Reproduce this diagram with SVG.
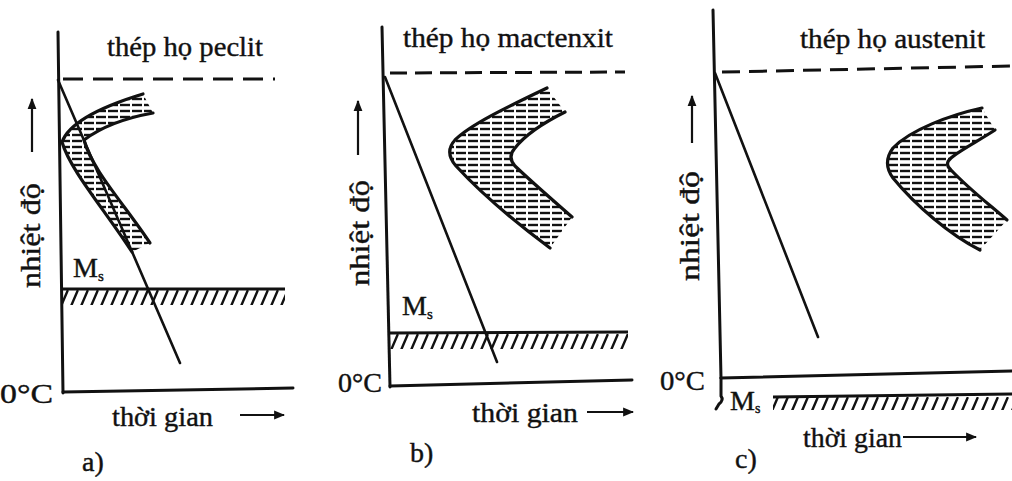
<svg xmlns="http://www.w3.org/2000/svg" width="1012" height="481" viewBox="0 0 1012 481">
<style>
text{font-family:'Liberation Serif','DejaVu Serif',serif;fill:#111;stroke:#111;stroke-width:0.4}
.t{font-size:28px}
.lab{font-size:28px}
.ax{stroke:#111;stroke-width:3;fill:none;stroke-linecap:round}
.cool{stroke:#111;stroke-width:2.6;fill:none;stroke-linecap:round}
.dash{stroke:#111;stroke-width:3;fill:none}
.edge{stroke:#111;stroke-width:3.2;fill:none;stroke-linecap:round;stroke-linejoin:round}
.band{fill:url(#hh);stroke:none}
.ms{stroke:#111;stroke-width:3;fill:none}
.arr{stroke:#111;stroke-width:2.2;fill:none}
</style>
<defs>
<pattern id="hh" width="12" height="6" patternUnits="userSpaceOnUse">
<line x1="0" y1="3" x2="10" y2="3" stroke="#111" stroke-width="2.4"/>
</pattern>
<pattern id="sl" width="10" height="20" patternUnits="userSpaceOnUse">
<line x1="1.5" y1="15" x2="7.5" y2="1" stroke="#111" stroke-width="2.4" stroke-linecap="round"/>
</pattern>
<marker id="ah" viewBox="0 0 10 10" refX="9" refY="5" markerWidth="5" markerHeight="5" orient="auto" markerUnits="strokeWidth">
<path d="M0,1 L10,5 L0,9 Z" fill="#111"/>
</marker>
</defs>

<g id="panel-a">
<line class="ax" x1="58" y1="32" x2="63" y2="393"/>
<line class="ax" x1="63" y1="392" x2="293" y2="388"/>
<line class="dash" x1="63" y1="79" x2="275" y2="79" stroke-dasharray="20 10"/>
<text class="t" x="107" y="56" textLength="156" lengthAdjust="spacingAndGlyphs">thép họ peclit</text>
<g id="a-curve">
<path class="band" d="M143,94 C110,104 70,120 62,142 C70,170 105,210 132,252 L150,243 C125,205 92,170 84,140 C100,128 125,118 153,113 Z"/>
<path class="edge" d="M143,94 C110,104 70,120 62,142 C70,170 105,210 132,252"/>
<path class="edge" d="M153,113 C125,118 100,128 84,140 C92,170 125,205 150,243"/>
</g>
<g transform="translate(0,290)"><rect x="63" y="0" width="222" height="15" fill="url(#sl)"/></g>
<line class="ms" x1="63" y1="289" x2="285" y2="289"/>
<text class="lab" x="73" y="277" font-size="25">M<tspan font-size="15" dy="4">s</tspan></text>
<text class="lab" x="0" y="403" font-size="33" textLength="53" lengthAdjust="spacingAndGlyphs">0°C</text>
<text class="t" x="112" y="426" textLength="101" lengthAdjust="spacingAndGlyphs">thời gian</text>
<line class="arr" x1="240" y1="415" x2="284" y2="415" marker-end="url(#ah)"/>
<text class="t" x="82" y="471">a)</text>
<text class="t" transform="translate(40,235.5) rotate(-90)" text-anchor="middle" textLength="105" lengthAdjust="spacingAndGlyphs">nhiệt độ</text>
<line class="arr" x1="32" y1="152" x2="32" y2="99" marker-end="url(#ah)"/>
</g>

<g id="panel-b">
<line class="ax" x1="382" y1="27" x2="390" y2="387"/>
<line class="ax" x1="390" y1="386" x2="632" y2="380"/>
<line class="dash" x1="390" y1="73" x2="625" y2="72" stroke-dasharray="17 8"/>
<text class="t" x="403" y="47" textLength="210" lengthAdjust="spacingAndGlyphs">thép họ mactenxit</text>
<g id="b-curve">
<path class="band" d="M547,88 C505,108 470,125 455,140 Q444,152 456,166 C480,192 515,222 550,248 L572,217 C555,202 535,185 515,166 Q507,157 515,148 C525,135 545,122 565,112 Z"/>
<path class="edge" d="M547,88 C505,108 470,125 455,140 Q444,152 456,166 C480,192 515,222 550,248"/>
<path class="edge" d="M565,112 C545,122 525,135 515,148 Q507,157 515,166 C535,185 555,202 572,217"/>
</g>
<g transform="translate(0,334)"><rect x="390" y="0" width="238" height="15" fill="url(#sl)"/></g>
<line class="ms" x1="390" y1="333" x2="628" y2="332"/>
<text class="lab" x="402" y="315" font-size="25">M<tspan font-size="15" dy="4">s</tspan></text>
<text class="lab" x="338" y="392" textLength="44" lengthAdjust="spacingAndGlyphs">0°C</text>
<text class="t" x="472" y="422" textLength="106" lengthAdjust="spacingAndGlyphs">thời gian</text>
<line class="arr" x1="587" y1="412" x2="633" y2="412" marker-end="url(#ah)"/>
<text class="t" x="410" y="462">b)</text>
<text class="t" transform="translate(369,233) rotate(-90)" text-anchor="middle" textLength="106" lengthAdjust="spacingAndGlyphs">nhiệt độ</text>
<line class="arr" x1="358" y1="155" x2="358" y2="101" marker-end="url(#ah)"/>
<line class="cool" x1="385" y1="77" x2="497" y2="362"/>
</g>

<g id="panel-c">
<line class="ax" x1="713" y1="10" x2="721" y2="378"/>
<path class="ax" d="M721,378 L721,396 Q724,400 719,404 L716,409" stroke-width="2.5"/>
<line class="ax" x1="721" y1="378" x2="1012" y2="371"/>
<line class="dash" x1="722" y1="72" x2="1012" y2="66" stroke-dasharray="18 9"/>
<text class="t" x="800" y="48" textLength="185" lengthAdjust="spacingAndGlyphs">thép họ austenit</text>
<g id="c-curve">
<path class="band" d="M982,108 C950,115 910,130 893,148 Q882,163 893,178 C915,205 950,235 980,250 L1007,220 C990,205 970,190 951,170 Q944,164 951,158 C960,150 980,140 995,130 Z"/>
<path class="edge" d="M982,108 C950,115 910,130 893,148 Q882,163 893,178 C915,205 950,235 980,250"/>
<path class="edge" d="M995,130 C980,140 960,150 951,158 Q944,164 951,170 C970,190 990,205 1007,220"/>
</g>
<g transform="translate(0,397)"><rect x="773" y="0" width="239" height="13" fill="url(#sl)"/></g>
<line class="ms" x1="773" y1="397" x2="1012" y2="394"/>
<text class="lab" x="730" y="410" font-size="23">M<tspan font-size="14" dy="3">s</tspan></text>
<text class="lab" x="660" y="390" textLength="45" lengthAdjust="spacingAndGlyphs">0°C</text>
<text class="t" x="803" y="447" textLength="99" lengthAdjust="spacingAndGlyphs">thời gian</text>
<line class="arr" x1="903" y1="437" x2="976" y2="437" marker-end="url(#ah)"/>
<text class="t" x="735" y="468">c)</text>
<text class="t" transform="translate(699,226) rotate(-90)" text-anchor="middle" textLength="110" lengthAdjust="spacingAndGlyphs">nhiệt độ</text>
<line class="arr" x1="692" y1="143" x2="692" y2="96" marker-end="url(#ah)"/>
<line class="cool" x1="715" y1="73" x2="818" y2="337"/>
</g>

<g id="connectors">
<line class="cool" x1="58" y1="80" x2="180" y2="363"/>
</g>
</svg>
